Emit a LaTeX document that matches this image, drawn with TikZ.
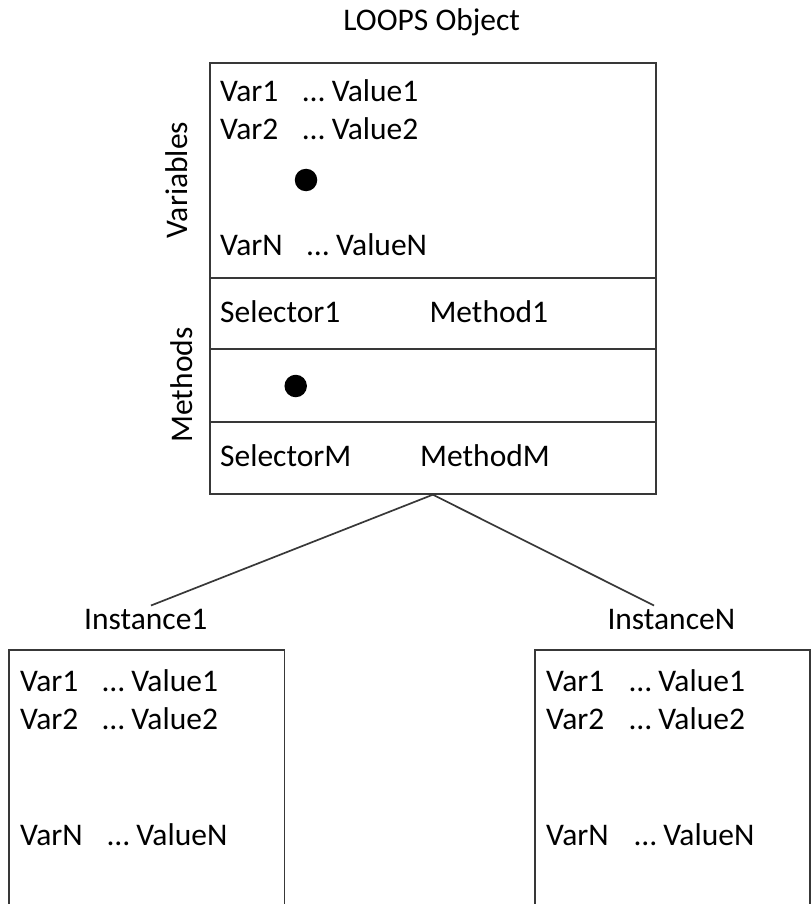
\documentclass[tikz,border=0pt]{standalone}
\usepackage{fontspec}
\setmainfont{Carlito}
\begin{document}
\begin{tikzpicture}[x=1pt,y=-1pt,
  frame/.style={draw=black!78, line width=1.7pt},
  txt/.style={inner sep=0pt, anchor=base west, font=\fontsize{31.5}{37}\selectfont},
  ctxt/.style={inner sep=0pt, anchor=base, font=\fontsize{31.5}{37}\selectfont},
  blob/.style={circle, fill=black, inner sep=0pt, minimum size=22.5pt}]
\useasboundingbox (0,0) rectangle (811,904);
\clip (0,0) rectangle (811,904);

% class object with its variable and method slots
\node[ctxt] (title) at (431.7,30.7) {LOOPS Object};
\node[frame, inner sep=0pt, minimum width=446pt, minimum height=431pt, anchor=north west] (obj) at (209,62) {};
\draw[frame] (209,278) -- (655,278);
\draw[frame] (209,349) -- (655,349);
\draw[frame] (209,422) -- (655,422);

\node[ctxt, rotate=90] (vars) at (187,180) {Variables};
\node[ctxt, rotate=90] (meths) at (192,385) {Methods};

\node[txt] (ov1) at (220,101.7) {Var1};
\node[txt] (ow1) at (302.7,101.7) {… Value1};
\node[txt] (ov2) at (220,140) {Var2};
\node[txt] (ow2) at (302.7,140) {… Value2};
\node[blob] (odot) at (306,180) {};
\node[txt] (ovn) at (220,255) {VarN};
\node[txt] (own) at (307,255) {… ValueN};

\node[txt] (s1) at (220,322.3) {Selector1};
\node[txt] (m1) at (429.3,322.3) {Method1};
\node[blob] (mdot) at (295.7,386) {};
\node[txt] (sm) at (220,466.7) {SelectorM};
\node[txt] (mm) at (420,466.7) {MethodM};

% instances
\node[ctxt] (inst1) at (145.8,629.3) {Instance1};
\node[ctxt] (instn) at (671.3,629.3) {InstanceN};
\coordinate (end1) at (151,605.5);
\coordinate (endn) at (654,605.5);
\draw[frame] (obj.south) -- (end1);
\draw[frame] (obj.south) -- (endn);

\node[frame, inner sep=0pt, minimum width=275.5pt, minimum height=300pt, anchor=north west] (box1) at (8,649.3) {};
\node[frame, inner sep=0pt, minimum width=274.6pt, minimum height=300pt, anchor=north west] (boxn) at (534.4,649.3) {};

\node[txt] (a1) at (20,691.7) {Var1};
\node[txt] (b1) at (102.3,691.7) {… Value1};
\node[txt] (a2) at (20,729.3) {Var2};
\node[txt] (b2) at (102.3,729.3) {… Value2};
\node[txt] (an) at (20,845) {VarN};
\node[txt] (bn) at (107.3,845) {… ValueN};

\node[txt] (c1) at (546,691.7) {Var1};
\node[txt] (d1) at (629.3,691.7) {… Value1};
\node[txt] (c2) at (546,729.3) {Var2};
\node[txt] (d2) at (629.3,729.3) {… Value2};
\node[txt] (cn) at (546,845) {VarN};
\node[txt] (dn) at (634.3,845) {… ValueN};
\end{tikzpicture}
\end{document}
